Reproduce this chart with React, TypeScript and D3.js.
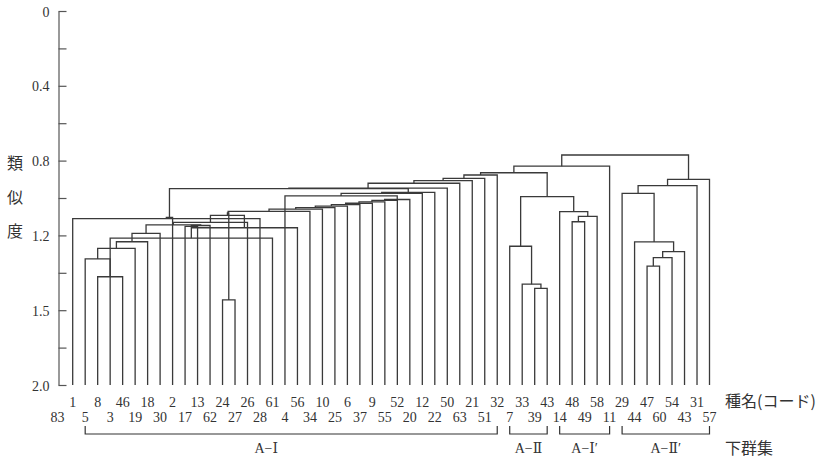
import React, { useEffect, useRef } from "react";
import * as d3 from "d3";

// leaf order along the bottom (43 occurs twice, a/b keep them apart)
const leafKeys = [
  "1", "5", "8", "3", "46", "19", "18", "30", "2", "17",
  "13", "62", "24", "27", "26", "28", "61", "4", "56", "34",
  "10", "25", "6", "37", "9", "55", "52", "20", "12", "22",
  "50", "63", "21", "51", "32", "7", "33", "39", "43a", "14",
  "48", "49", "58", "11", "29", "44", "47", "60", "54", "43b",
  "31", "57",
];
const axisLeafLabel = "83";

const yTickValues = [0, 0.2, 0.4, 0.6, 0.8, 1.0, 1.2, 1.4, 1.6, 1.8, 2.0];
const yTickLabels = ["0", "", "0.4", "", "0.8", "", "1.2", "", "1.5", "", "2.0"];

// [node, child a, child b, joining height]
const merges: [string, string, string, number][] = [
  ["m1", "8", "46", 1.421],
  ["m2", "5", "m1", 1.326],
  ["m3", "m2", "19", 1.269],
  ["m4", "m3", "18", 1.234],
  ["m5", "m4", "30", 1.189],
  ["m6", "3", "61", 1.215],
  ["m7", "24", "27", 1.545],
  ["a1", "17", "13", 1.152],
  ["a2", "a1", "62", 1.147],
  ["m9", "m5", "a2", 1.144],
  ["m10", "m9", "26", 1.13],
  ["n7", "m6", "56", 1.159],
  ["m12", "m10", "n7", 1.093],
  ["m13", "m7", "m12", 1.08],
  ["m14", "1", "28", 1.11],
  ["t0", "m14", "2", 1.104],
  ["s1", "m13", "34", 1.072],
  ["s2", "s1", "10", 1.059],
  ["s3", "s2", "25", 1.051],
  ["s4", "s3", "6", 1.043],
  ["s5", "s4", "37", 1.035],
  ["s6", "s5", "9", 1.028],
  ["s7", "s6", "55", 1.021],
  ["s8", "s7", "52", 1.013],
  ["s9", "s8", "20", 1.008],
  ["s10", "4", "s9", 0.989],
  ["s11", "s10", "12", 0.975],
  ["s12", "s11", "22", 0.97],
  ["t1", "t0", "s12", 0.95],
  ["t2", "t1", "50", 0.947],
  ["t3", "t2", "63", 0.921],
  ["t4", "t3", "21", 0.907],
  ["t5", "t4", "51", 0.895],
  ["t6", "t5", "32", 0.877],
  ["b1", "39", "43a", 1.483],
  ["b2", "33", "b1", 1.461],
  ["b3", "7", "b2", 1.258],
  ["c1", "48", "49", 1.127],
  ["c2", "c1", "58", 1.098],
  ["c3", "14", "c2", 1.073],
  ["g1", "b3", "c3", 0.993],
  ["h1", "t6", "g1", 0.865],
  ["h2", "h1", "11", 0.83],
  ["d1", "47", "60", 1.364],
  ["d2", "d1", "54", 1.319],
  ["d3", "d2", "43b", 1.287],
  ["d4", "44", "d3", 1.235],
  ["d5", "29", "d4", 0.975],
  ["d6", "d5", "31", 0.934],
  ["d7", "d6", "57", 0.9],
  ["root", "h2", "d7", 0.77],
];

// sub-clusters: [label, first leaf, last leaf, label under leaves]
const groups: [string, string, string, string, string][] = [
  ["A−Ⅰ", "5", "32", "28", "61"],
  ["A−Ⅱ", "7", "43a", "33", "39"],
  ["A−Ⅰ′", "14", "11", "49", "49"],
  ["A−Ⅱ′", "29", "57", "60", "54"],
];

const yTitle = ["類", "似", "度"];
const leafTitle = "種名(コード)";
const groupTitle = "下群集";

const serif = "'Liberation Serif', 'DejaVu Serif', serif";
const cjk = "'Noto Sans CJK JP', 'Noto Sans CJK SC', sans-serif";
const ink = "#333";

export default function App() {
  const ref = useRef<SVGSVGElement>(null);

  useEffect(() => {
    const svg = d3.select(ref.current);
    svg.selectAll("*").remove();

    const x = d3.scalePoint<string>().domain(leafKeys).range([72.7, 709.5]);
    const y = d3.scaleLinear().domain([0, 2]).range([11, 385]);
    const axisX = 58.5;

    // y axis
    const axis = d3.axisRight(y)
      .tickValues(yTickValues)
      .tickSize(8)
      .tickSizeOuter(0)
      .tickFormat(() => "");
    const gAxis = svg.append("g")
      .attr("transform", `translate(${axisX},0)`)
      .call(axis);
    gAxis.selectAll("path, line").attr("stroke", "#555").attr("stroke-width", 1.2);

    svg.append("g")
      .selectAll("text")
      .data(yTickValues)
      .enter()
      .append("text")
      .attr("x", 49.5)
      .attr("y", d => y(d) + 1)
      .attr("text-anchor", "end")
      .attr("dominant-baseline", "central")
      .attr("font-family", serif)
      .attr("font-size", 14)
      .attr("fill", ink)
      .text((d, i) => yTickLabels[i]);

    svg.append("g")
      .selectAll("text")
      .data(yTitle)
      .enter()
      .append("text")
      .attr("x", 15)
      .attr("y", (d, i) => 162 + i * 34)
      .attr("text-anchor", "middle")
      .attr("dominant-baseline", "central")
      .attr("font-family", cjk)
      .attr("font-size", 16)
      .attr("fill", ink)
      .text(d => d);

    // dendrogram
    const pos = new Map<string, { x: number; h: number }>();
    leafKeys.forEach(k => pos.set(k, { x: x(k)!, h: 2 }));
    const links: string[] = [];
    merges.forEach(([id, a, b, h]) => {
      const pa = pos.get(a)!;
      const pb = pos.get(b)!;
      pos.set(id, { x: (pa.x + pb.x) / 2, h });
      links.push(`M${pa.x},${y(pa.h)}V${y(h)}H${pb.x}V${y(pb.h)}`);
    });

    svg.append("g")
      .selectAll("path")
      .data(links)
      .enter()
      .append("path")
      .attr("d", d => d)
      .attr("fill", "none")
      .attr("stroke", "#3a3a3a")
      .attr("stroke-width", 1.3);

    // leaf labels in two staggered rows
    svg.append("g")
      .selectAll("text")
      .data(leafKeys)
      .enter()
      .append("text")
      .attr("x", d => x(d)!)
      .attr("y", (d, i) => (i % 2 === 0 ? 406.5 : 421.5))
      .attr("text-anchor", "middle")
      .attr("font-family", serif)
      .attr("font-size", 14)
      .attr("fill", ink)
      .text(d => d.replace(/[ab]$/, ""));

    svg.append("text")
      .attr("x", axisX - 1)
      .attr("y", 421.5)
      .attr("text-anchor", "middle")
      .attr("font-family", serif)
      .attr("font-size", 14)
      .attr("fill", ink)
      .text(axisLeafLabel);

    svg.append("text")
      .attr("x", 725)
      .attr("y", 406.5)
      .attr("font-family", cjk)
      .attr("font-size", 16)
      .attr("fill", ink)
      .text(leafTitle);

    // sub-cluster brackets
    const gGroups = svg.append("g");
    groups.forEach(([name, from, to, la, lb]) => {
      const x0 = x(from)!;
      const x1 = x(to)!;
      gGroups.append("path")
        .attr("d", `M${x0},426V434H${x1}V426`)
        .attr("fill", "none")
        .attr("stroke", ink)
        .attr("stroke-width", 1.2);
      gGroups.append("text")
        .attr("x", (x(la)! + x(lb)!) / 2)
        .attr("y", 453)
        .attr("text-anchor", "middle")
        .attr("font-family", serif)
        .attr("font-size", 14)
        .attr("fill", ink)
        .text(name);
    });

    svg.append("text")
      .attr("x", 725)
      .attr("y", 454)
      .attr("font-family", cjk)
      .attr("font-size", 16)
      .attr("fill", ink)
      .text(groupTitle);
  }, []);

  return (
    <svg
      ref={ref}
      width={820}
      height={459}
      style={{ position: "absolute", left: 0, top: 0, background: "#fff" }}
    />
  );
}
